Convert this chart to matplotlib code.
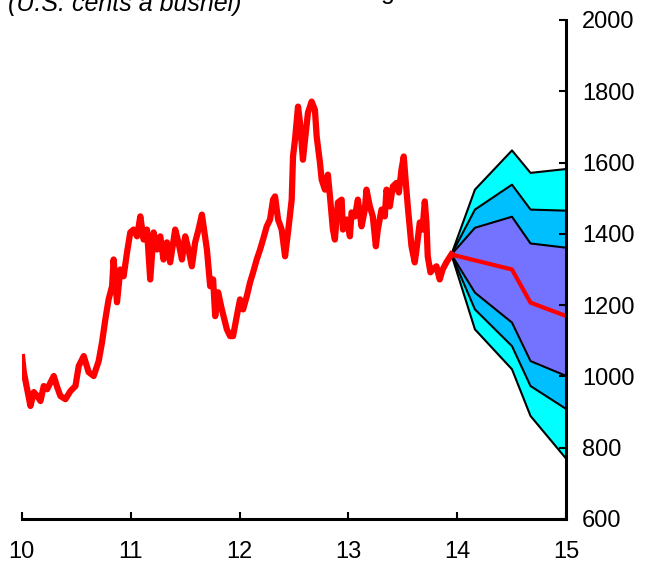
import matplotlib.pyplot as plt

plt.rcParams['font.family'] = ['Liberation Sans', 'DejaVu Sans']

# historical price (years since 2000, U.S. cents a bushel)
hist_t = [10.006, 10.021, 10.052, 10.082, 10.113, 10.144, 10.174, 10.204, 10.235, 10.266,
          10.296, 10.327, 10.357, 10.403, 10.449, 10.495, 10.525, 10.571, 10.616, 10.662,
          10.708, 10.739, 10.769, 10.799, 10.831, 10.845, 10.876, 10.907, 10.937, 10.968,
          10.998, 11.028, 11.060, 11.090, 11.120, 11.151, 11.181, 11.212, 11.243, 11.273,
          11.303, 11.334, 11.364, 11.410, 11.440, 11.472, 11.502, 11.532, 11.563, 11.593,
          11.624, 11.655, 11.701, 11.731, 11.758, 11.777, 11.804, 11.838, 11.884, 11.914,
          11.941, 11.975, 12.005, 12.033, 12.067, 12.097, 12.125, 12.158, 12.189, 12.216,
          12.250, 12.280, 12.308, 12.326, 12.354, 12.387, 12.418, 12.445, 12.479, 12.491,
          12.509, 12.537, 12.555, 12.582, 12.601, 12.628, 12.662, 12.692, 12.708, 12.738,
          12.754, 12.784, 12.811, 12.830, 12.857, 12.875, 12.903, 12.937, 12.949, 12.983,
          13.013, 13.028, 13.059, 13.086, 13.120, 13.150, 13.165, 13.196, 13.223, 13.251,
          13.269, 13.303, 13.333, 13.349, 13.379, 13.407, 13.440, 13.462, 13.486, 13.507,
          13.526, 13.544, 13.578, 13.608, 13.624, 13.654, 13.679, 13.700, 13.715, 13.727,
          13.752, 13.773, 13.807, 13.837, 13.864, 13.898, 13.944]
hist_v = [1054, 1012, 964, 917, 956, 945, 931, 973, 964, 983,
          1001, 970, 945, 936, 959, 973, 1029, 1057, 1012, 1001,
          1043, 1096, 1160, 1216, 1253, 1328, 1208, 1300, 1281, 1348,
          1404, 1412, 1393, 1449, 1384, 1412, 1272, 1404, 1356, 1393,
          1328, 1376, 1320, 1412, 1376, 1328, 1393, 1356, 1309, 1376,
          1412, 1454, 1356, 1253, 1272, 1169, 1236, 1188, 1132, 1113,
          1113, 1169, 1216, 1188, 1225, 1264, 1292, 1328, 1356, 1384,
          1421, 1440, 1496, 1505, 1440, 1412, 1337, 1404, 1496, 1617,
          1664, 1757, 1712, 1608, 1664, 1740, 1771, 1748, 1673, 1600,
          1552, 1524, 1566, 1505, 1412, 1384, 1488, 1496, 1412, 1440,
          1393, 1460, 1449, 1496, 1421, 1468, 1524, 1477, 1449, 1365,
          1412, 1468, 1449, 1524, 1477, 1533, 1543, 1516, 1580, 1617,
          1543, 1477, 1365, 1320, 1356, 1432, 1412, 1491, 1432, 1337,
          1292, 1300, 1309, 1272, 1300, 1320, 1342]

# forecast fan
fan_x = [13.944, 14.16, 14.5, 14.67, 15.0]
upper90 = [1342, 1524, 1634, 1571, 1582]
upper70 = [1342, 1468, 1538, 1468, 1465]
upper50 = [1342, 1417, 1448, 1373, 1361]
lower50 = [1342, 1235, 1151, 1043, 1001]
lower70 = [1342, 1188, 1085, 973, 908]
lower90 = [1342, 1132, 1020, 889, 768]
med_x = [13.944, 14.5, 14.67, 15.0]
median = [1342, 1300, 1207, 1169]

x_ticks = [10, 11, 12, 13, 14, 15]
y_ticks = [600, 800, 1000, 1200, 1400, 1600, 1800, 2000]

fig = plt.figure(figsize=(6.48, 5.63), dpi=100)
ax = fig.add_axes([0.0332, 0.0782, 0.841, 0.8863])

ax.fill_between(fan_x, lower90, upper90, color='#00FFFF', lw=0)
ax.fill_between(fan_x, lower70, upper70, color='#00BFFF', lw=0)
ax.fill_between(fan_x, lower50, upper50, color='#7373FF', lw=0)
for band in [upper90, upper70, upper50, lower50, lower70, lower90]:
    ax.plot(fan_x, band, color='black', lw=1.5)

ax.plot(hist_t, hist_v, color='#FF0000', lw=4.5, solid_joinstyle='round')
ax.plot(med_x, median, color='#FF0000', lw=3)

ax.set_xlim(10, 15)
ax.set_ylim(600, 2000)
ax.set_xticks(x_ticks)
ax.set_xticklabels([str(t) for t in x_ticks])
ax.set_yticks(y_ticks)
ax.yaxis.tick_right()

for side in ['top', 'left']:
    ax.spines[side].set_visible(False)
for side in ['bottom', 'right']:
    ax.spines[side].set_linewidth(2.2)

ax.tick_params(axis='x', direction='in', length=5, width=1.5, pad=16, labelsize=17)
ax.tick_params(axis='y', direction='in', length=5, width=1.5, pad=11, labelsize=17,
               right=True, left=False, labelright=True, labelleft=False)

fig.text(0.0123, 0.9813, '(U.S. cents a bushel)', fontsize=18, style='italic',
         va='baseline', ha='left')
fig.text(0.588, 1.002, 'g', fontsize=18, va='baseline', ha='left')

fig.savefig('out.png', dpi=100)
